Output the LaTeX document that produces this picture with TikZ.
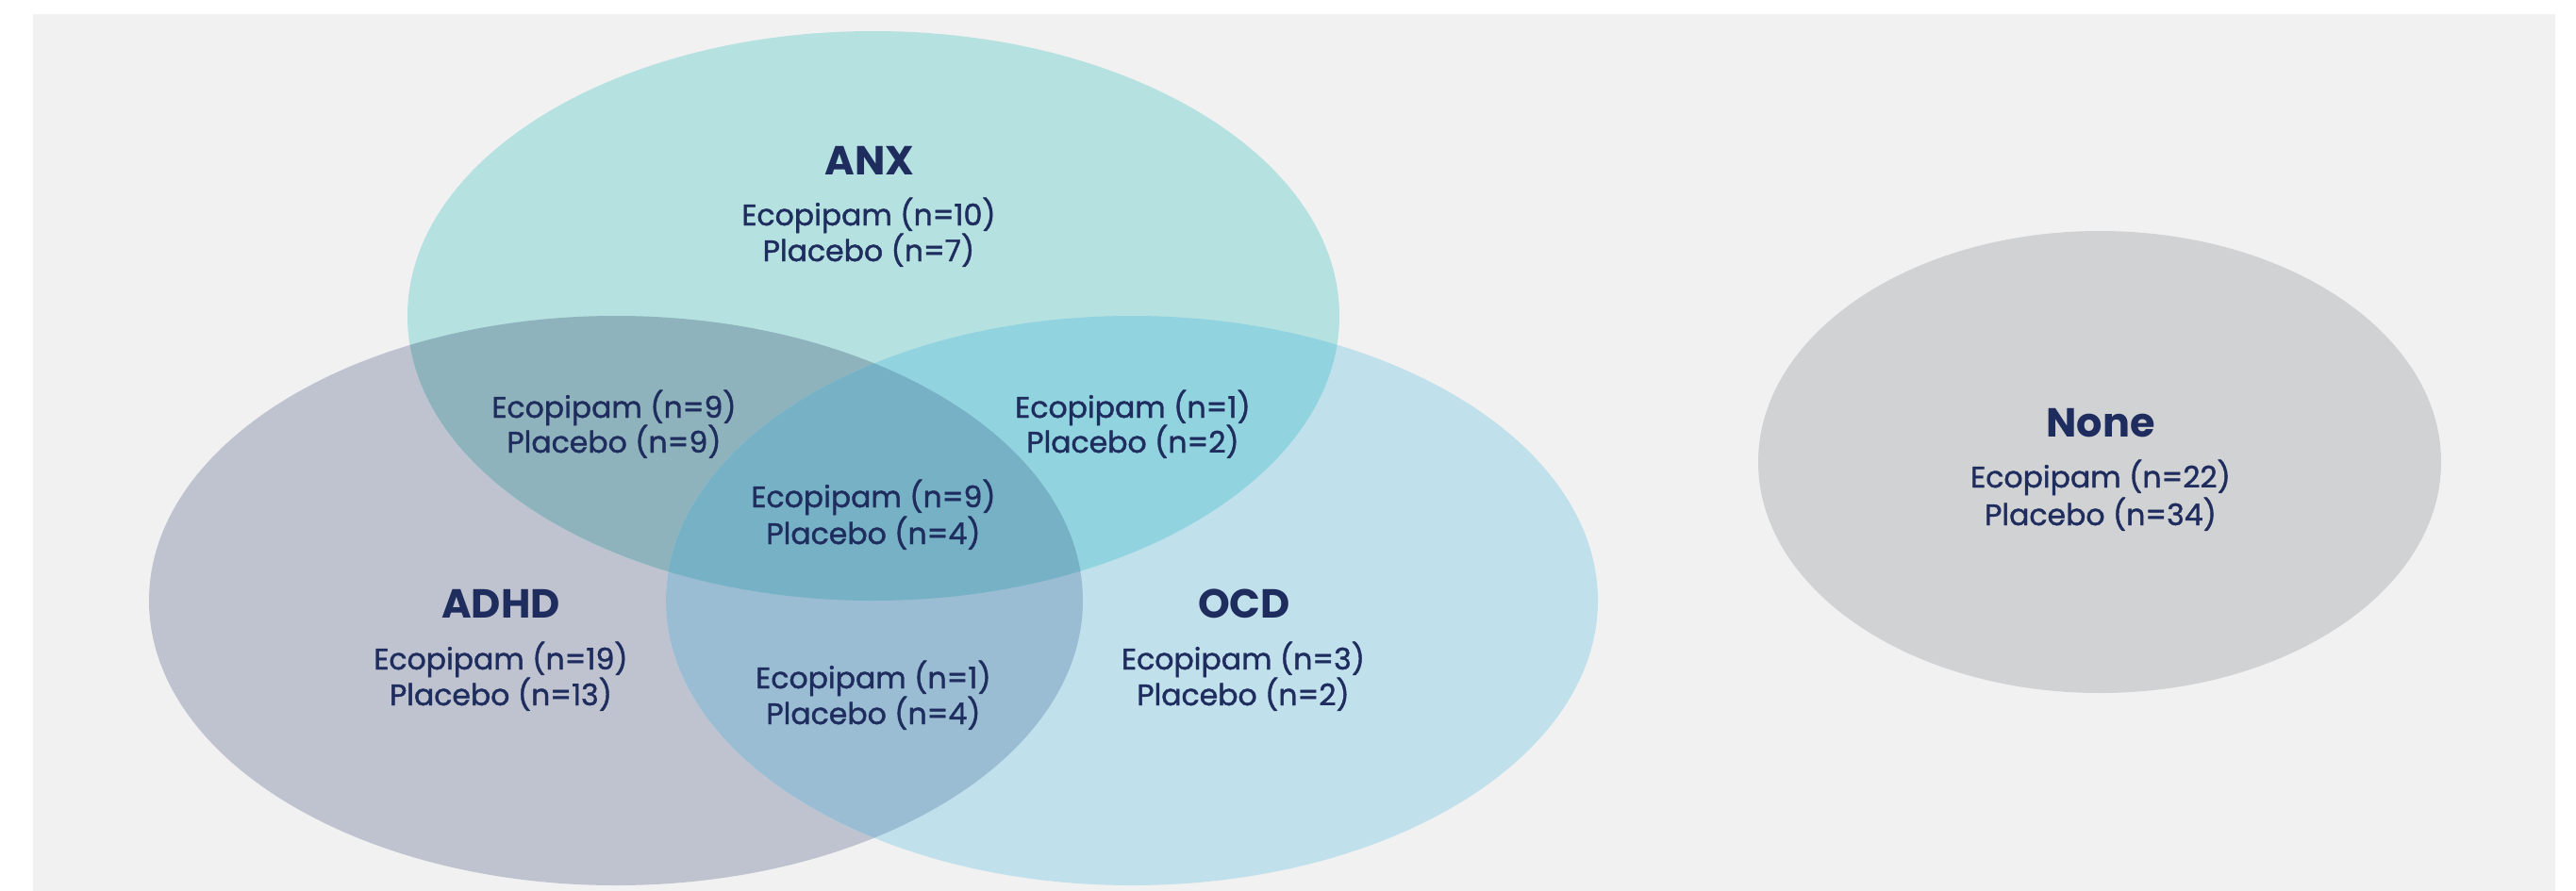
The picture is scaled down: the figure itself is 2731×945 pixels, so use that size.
\documentclass[tikz,border=0pt]{standalone}
\usepackage{fontspec}
\setmainfont{Poppins}
\newfontfamily\medfont{Poppins}[FakeBold=1.3]
\definecolor{bgc}{HTML}{F1F1F1}
\definecolor{anxc}{HTML}{B5E1E1}
\definecolor{adhdc}{HTML}{BFC3CF}
\definecolor{ocdc}{HTML}{C0E0EC}
\definecolor{anxadhd}{HTML}{8FB3BC}
\definecolor{anxocd}{HTML}{91D3DF}
\definecolor{adhdocd}{HTML}{9ABDD3}
\definecolor{triplec}{HTML}{77B1C5}
\definecolor{nonec}{HTML}{D1D2D4}
\definecolor{txt}{HTML}{1F2D5E}
\def\anxpath{(926,335) ellipse [x radius=494pt, y radius=302pt]}
\def\adhdpath{(653,637) ellipse [x radius=495pt, y radius=302pt]}
\def\ocdpath{(1200,637) ellipse [x radius=494pt, y radius=302pt]}
\begin{document}
\begin{tikzpicture}[x=1pt,y=-1pt,
  title/.style={text=txt, anchor=base, inner sep=0pt, font=\fontsize{43}{43}\selectfont\bfseries},
  line/.style={text=txt, anchor=base, inner sep=0pt, font=\fontsize{31.5}{31.5}\selectfont\medfont}]
\useasboundingbox (0,0) rectangle (2731,945);
\fill[bgc] (35,15) rectangle (2709,945);
% circles
\fill[adhdc] \adhdpath;
\fill[ocdc] \ocdpath;
\fill[anxc] \anxpath;
\begin{scope}\clip \anxpath; \fill[anxadhd] \adhdpath; \end{scope}
\begin{scope}\clip \anxpath; \fill[anxocd] \ocdpath; \end{scope}
\begin{scope}\clip \adhdpath; \fill[adhdocd] \ocdpath; \end{scope}
\begin{scope}\clip \anxpath; \clip \adhdpath; \fill[triplec] \ocdpath; \end{scope}
\fill[nonec] (2226,490) ellipse [x radius=362pt, y radius=245pt];
% labels
\node[title] (anxT) at (922,185) {ANX};
\node[line] (anxE) at (921,239) {Ecopipam (n=10)};
\node[line] (anxP) at (921,277) {Placebo (n=7)};
\node[line] (aaE) at (651,443) {Ecopipam (n=9)};
\node[line] (aaP) at (651,480) {Placebo (n=9)};
\node[line] (aoE) at (1201,443) {Ecopipam (n=1)};
\node[line] (aoP) at (1201,480) {Placebo (n=2)};
\node[line] (allE) at (926,538) {Ecopipam (n=9)};
\node[line] (allP) at (926,577) {Placebo (n=4)};
\node[title] (adhdT) at (531,655) {ADHD};
\node[line] (adhdE) at (531,710) {Ecopipam (n=19)};
\node[line] (adhdP) at (531,748) {Placebo (n=13)};
\node[line] (doE) at (926,730) {Ecopipam (n=1)};
\node[line] (doP) at (926,768) {Placebo (n=4)};
\node[title] (ocdT) at (1319,655) {OCD};
\node[line] (ocdE) at (1318,710) {Ecopipam (n=3)};
\node[line] (ocdP) at (1318,748) {Placebo (n=2)};
\node[title] (noneT) at (2227,463) {None};
\node[line] (noneE) at (2227,517) {Ecopipam (n=22)};
\node[line] (noneP) at (2227,557) {Placebo (n=34)};
\end{tikzpicture}
\end{document}
